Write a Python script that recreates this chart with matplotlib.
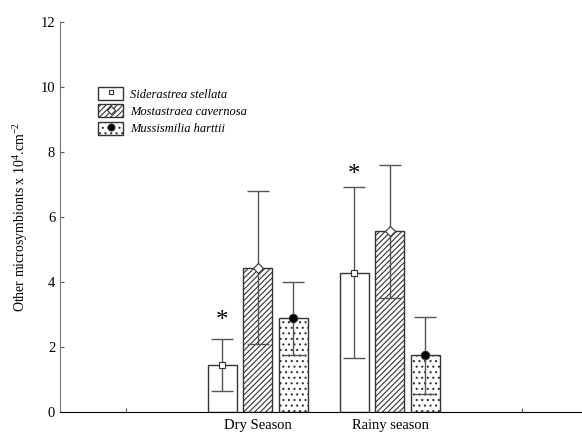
import numpy as np
import matplotlib.pyplot as plt
from matplotlib.patches import Patch
from matplotlib.lines import Line2D

plt.rcParams['font.family'] = ['Liberation Serif', 'DejaVu Serif']
plt.rcParams['mathtext.fontset'] = 'custom'
plt.rcParams['mathtext.rm'] = 'Liberation Serif'
plt.rcParams['mathtext.it'] = 'Liberation Serif:italic'
plt.rcParams['hatch.color'] = '#333333'
plt.rcParams['hatch.linewidth'] = 0.8

# data
seasons = ["Dry Season", "Rainy season"]
species = ["Siderastrea stellata", "Mostastraea cavernosa", "Mussismilia harttii"]
means = {"Siderastrea stellata": [1.45, 4.29],
         "Mostastraea cavernosa": [4.44, 5.57],
         "Mussismilia harttii": [2.88, 1.75]}
err_low = {"Siderastrea stellata": [0.65, 1.65],
           "Mostastraea cavernosa": [2.08, 3.52],
           "Mussismilia harttii": [1.75, 0.54]}
err_high = {"Siderastrea stellata": [2.24, 6.91],
            "Mostastraea cavernosa": [6.81, 7.60],
            "Mussismilia harttii": [3.99, 2.93]}
star_pos = [2.8, 7.3]  # asterisk heights above S. stellata

hatches = ['', '//////', '...']
markers = [('s', 'white', 4), ('D', 'white', 5), ('o', 'black', 6)]

fig = plt.figure(figsize=(5.82, 4.33), dpi=100)
ax = fig.add_axes([60/582, 21/433, 522/582, 390/433])

x = np.array([1, 2])
w = 0.22
off = 0.269
for i, sp in enumerate(species):
    xi = x + (i-1)*off
    m = np.array(means[sp])
    lo = np.array(err_low[sp])
    hi = np.array(err_high[sp])
    ax.bar(xi, m, w, color='white', edgecolor='#333333', linewidth=1, hatch=hatches[i], zorder=2)
    ax.errorbar(xi, m, yerr=[m-lo, hi-m], fmt='none', ecolor='#555555', elinewidth=1,
                capsize=8, capthick=1, zorder=3)
    mk, fc, ms = markers[i]
    ax.plot(xi, m, linestyle='none', marker=mk, markerfacecolor=fc, markeredgecolor='#333333',
            markersize=ms, markeredgewidth=0.8, zorder=4)

for xi, s in zip(x - off, star_pos):
    ax.text(xi, s, '*', ha='center', va='center', fontsize=18)

ax.set_xlim(-0.5, 3.455)
ax.set_ylim(0, 12)
ax.set_xticks([0, 1, 2, 3])
ax.set_xticklabels(['', seasons[0], seasons[1], ''], fontsize=10.5)
ax.set_yticks(np.arange(0, 13, 2))
ax.tick_params(axis='both', direction='in', length=3, labelsize=10.5, color='#555555')
ax.tick_params(axis='x', pad=5)
ax.spines['top'].set_visible(False)
ax.spines['right'].set_visible(False)
ax.spines['left'].set_color('#777777')
ax.spines['bottom'].set_color('black')
ax.set_ylabel('Other microsymbionts x 10$^4$.cm$^{-2}$', fontsize=10)
ax.yaxis.set_label_coords(-0.058, 0.5)

handles = []
for i in range(3):
    mk, fc, ms = markers[i]
    p = Patch(facecolor='white', edgecolor='#333333', hatch=hatches[i])
    l = Line2D([], [], linestyle='none', marker=mk, markerfacecolor=fc, markeredgecolor='#333333',
               markersize=ms-1, markeredgewidth=0.8)
    handles.append((p, l))
leg = ax.legend(handles, species, loc='upper left', bbox_to_anchor=(0.052, 0.862),
                frameon=False, prop={'style': 'italic', 'size': 9},
                handlelength=2.0, handleheight=1.2, labelspacing=0.3, handletextpad=0.5)

fig.savefig('out.png', dpi=100)
